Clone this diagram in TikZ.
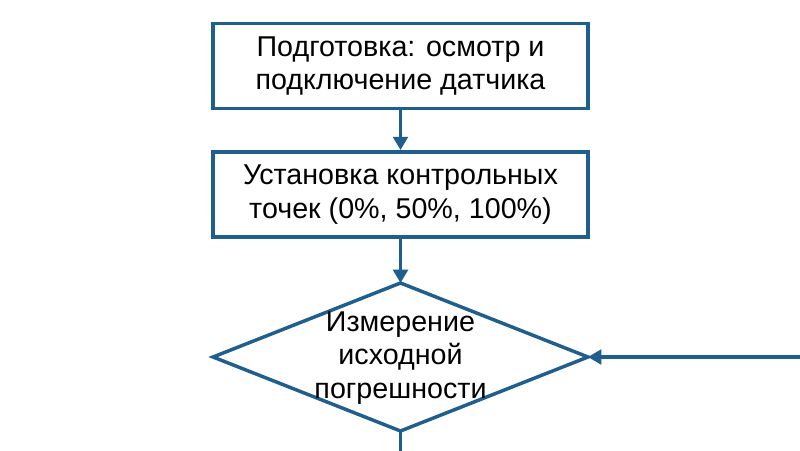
\documentclass[tikz,border=0pt]{standalone}
\usepackage{fontspec}
\setmainfont{Liberation Sans}
\usetikzlibrary{arrows.meta}
\definecolor{bl}{HTML}{1F5F8E}
\begin{document}
\begin{tikzpicture}[x=0.75pt,y=-0.75pt,
  box/.style={draw=bl,line width=2.6pt,minimum width=281.25pt,minimum height=64pt,align=center,font=\fontsize{21.5}{25}\selectfont,inner sep=0pt},
  arr/.style={draw=bl,line width=2.6pt,-{Triangle[length=10pt,width=11pt]}},
  ln/.style={draw=bl,line width=2.6pt}]
\useasboundingbox (0,0) rectangle (800,450);
\fill[white] (0,0) rectangle (800,450);
\node[box] (b1) at (400.5,66) {Подготовка: осмотр и\\подключение датчика};
\node[box] (b2) at (400.5,194.5) {Установка контрольных\\точек (0\%, 50\%, 100\%)};
\coordinate (dt) at (400.5,283);
\coordinate (dr) at (588,357);
\coordinate (db) at (400.5,431);
\coordinate (dl) at (213,357);
\draw[ln,line join=miter] (dt) -- (dr) -- (db) -- (dl) -- cycle;
\node[align=center,font=\fontsize{21.5}{25}\selectfont] (d) at (400.5,358) {Измерение\\исходной\\погрешности};
\coordinate (e1) at (800,357);
\coordinate (e2) at (400.5,452);
\draw[arr] (b1.south) -- (b2.north);
\draw[arr] (b2.south) -- (dt);
\draw[arr] (e1) -- (dr);
\draw[ln] (db) -- (e2);
\end{tikzpicture}
\end{document}
